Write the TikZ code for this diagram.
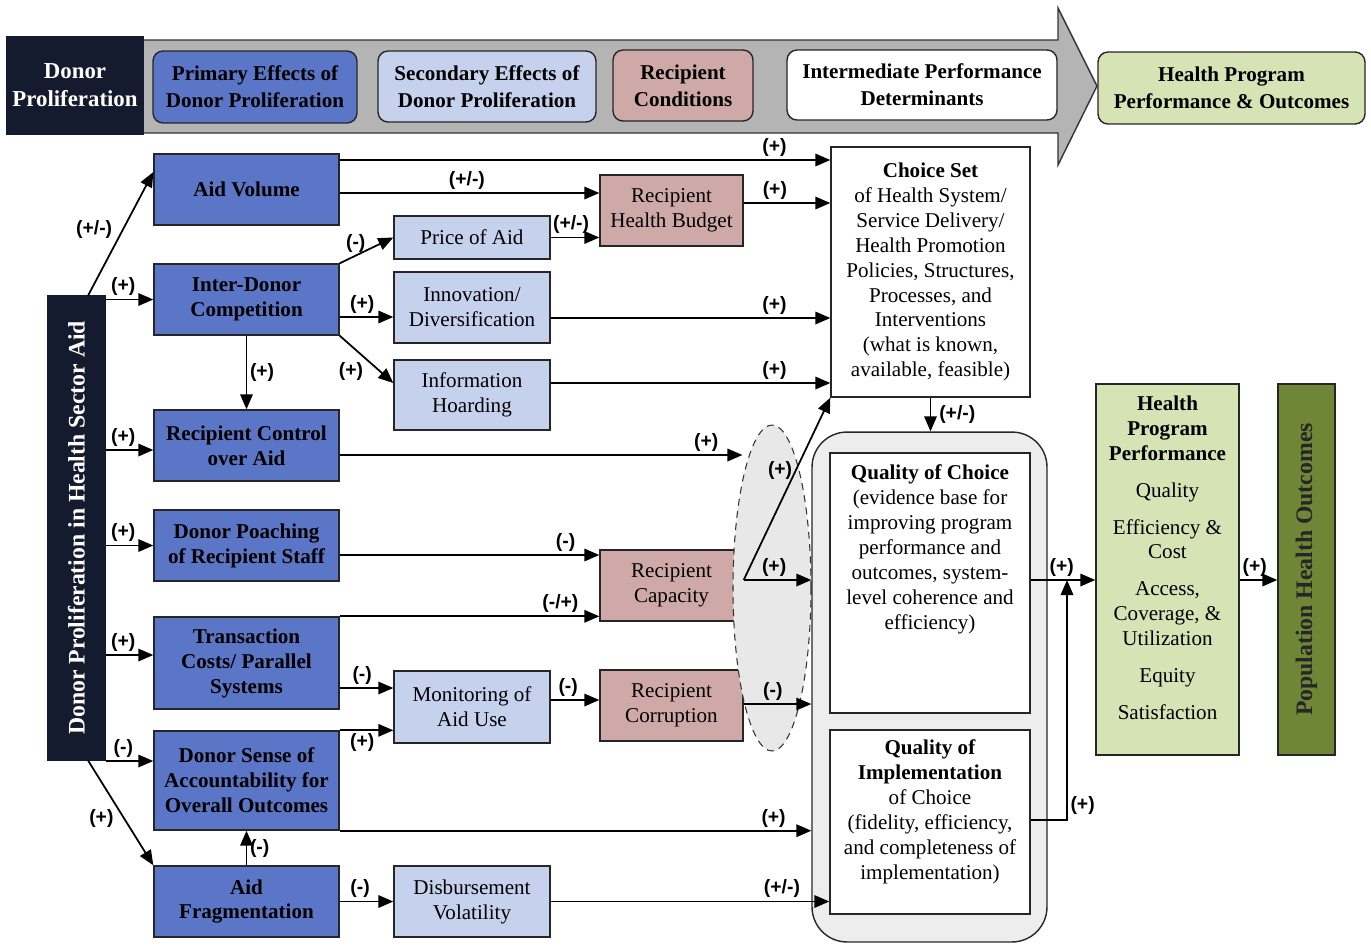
\documentclass[tikz,border=0pt]{standalone}
\usepackage{fontspec}
\setmainfont{Liberation Serif}
\newfontfamily\signfont{Liberation Sans}
\usetikzlibrary{arrows.meta, shapes.geometric, positioning, calc}

\definecolor{navy}{HTML}{151B2E}
\definecolor{primblue}{HTML}{5B76C6}
\definecolor{secblue}{HTML}{C6D1EE}
\definecolor{recpink}{HTML}{CFA9A7}
\definecolor{lightgreen}{HTML}{D6E3B5}
\definecolor{olive}{HTML}{6E8636}
\definecolor{bandgrey}{HTML}{B4B4B4}
\definecolor{boxgrey}{HTML}{EDEDED}
\definecolor{ovalgrey}{HTML}{E8E8E8}

\tikzset{
  base/.style={draw=black!85, line width=0.8pt, inner sep=0pt, align=center,
    font=\fontsize{12}{14.2}\selectfont},
  hdr/.style={base, rounded corners=0.2cm, font=\bfseries\fontsize{12}{15.5}\selectfont},
  prim/.style={base, fill=primblue, font=\bfseries\fontsize{12}{14.2}\selectfont,
    minimum width=3.7cm, minimum height=1.42cm},
  sec/.style={base, fill=secblue, minimum width=3.12cm, minimum height=1.42cm},
  rec/.style={base, fill=recpink, minimum width=2.86cm, minimum height=1.42cm},
  qtext/.style={align=center, inner sep=0pt, font=\fontsize{12}{14.2}\selectfont},
  flow/.style={line width=1pt, -{Triangle[length=0.3cm, width=0.25cm]}},
  sgn/.style={font=\signfont\bfseries\fontsize{11}{12}\selectfont, inner sep=1.5pt}
}

\begin{document}
\begin{tikzpicture}[x=0.02cm, y=-0.02cm]
  \useasboundingbox (0,0) rectangle (1371,947);

  \draw[fill=bandgrey, draw=black!80, line width=0.8pt] (143,40) -- (1058,40) -- (1058,8) -- (1097,86)
    -- (1058,165) -- (1058,133) -- (143,133) -- cycle;
  \node[hdr, fill=navy, draw=navy, text=white, rounded corners=0pt, font=\bfseries\fontsize{13}{16}\selectfont,
    minimum width=2.72cm, minimum height=1.94cm] (dphdr) at (75,85.5) {Donor\\Proliferation};
  \node[hdr, fill=primblue, minimum width=4.08cm, minimum height=1.44cm] (primhdr) at (255,87) {Primary Effects of\\Donor Proliferation};
  \node[hdr, fill=secblue, minimum width=4.36cm, minimum height=1.42cm] (sechdr) at (487,86.5) {Secondary Effects of\\Donor Proliferation};
  \node[hdr, fill=recpink, minimum width=2.8cm, minimum height=1.42cm] (rechdr) at (683,85.5) {Recipient\\Conditions};
  \node[hdr, fill=white, minimum width=5.4cm, minimum height=1.4cm] (inthdr) at (922,85) {Intermediate Performance\\Determinants};
  \node[hdr, fill=lightgreen, minimum width=5.34cm, minimum height=1.44cm] (outhdr) at (1231.5,88) {Health Program\\Performance \& Outcomes};

  \node[base, fill=navy, draw=navy, text=white, font=\bfseries\fontsize{13.5}{15}\selectfont, rotate=90,
    minimum width=9.28cm, minimum height=1.14cm] (donor) at (76.5,528) {Donor Proliferation in Health Sector Aid};

  \node[prim] (aidvol) at (246.5,189.5) {Aid Volume};
  \node[prim] (compet) at (246.5,299.5) {Inter-Donor\\Competition};
  \node[prim] (control) at (246.5,445.5) {Recipient Control\\over Aid};
  \node[prim] (poach) at (246.5,545.5) {Donor Poaching\\of Recipient Staff};
  \node[prim, minimum height=1.84cm] (trans) at (246.5,663) {Transaction\\Costs/ Parallel\\Systems};
  \node[prim, minimum height=1.98cm] (account) at (246.5,780.5) {Donor Sense of\\Accountability for\\Overall Outcomes};
  \node[prim] (frag) at (246.5,901.5) {Aid\\Fragmentation};

  \node[sec, minimum height=0.86cm] (price) at (472,237.5) {Price of Aid};
  \node[sec] (innov) at (472,307.5) {Innovation/\\Diversification};
  \node[sec, minimum height=1.4cm] (hoard) at (472,395) {Information\\Hoarding};
  \node[sec, minimum height=1.44cm] (monit) at (472,707) {Monitoring of\\Aid Use};
  \node[sec] (disb) at (472,901.5) {Disbursement\\Volatility};

  \node[rec] (budget) at (671.5,210.5) {Recipient\\Health Budget};
  \node[rec] (capac) at (671.5,585.5) {Recipient\\Capacity};
  \node[rec] (corrupt) at (671.5,705.5) {Recipient\\Corruption};

  \node[ellipse, draw=black!80, line width=0.6pt, dash pattern=on 4pt off 3pt, fill=ovalgrey,
    minimum width=1.56cm, minimum height=6.52cm, inner sep=0pt] (grp) at (772,588) {};

  \node[base, fill=white, minimum width=3.98cm, minimum height=5cm] (choice) at (930.5,272)
    {\textbf{Choice Set}\\of Health System/\\Service Delivery/\\Health Promotion\\Policies, Structures,\\Processes, and\\Interventions\\(what is known,\\available, feasible)};

  \node[base, fill=boxgrey, rounded corners=0.7cm, minimum width=4.7cm, minimum height=10.2cm] (qual) at (929.5,687) {};
  \node[base, fill=white, minimum width=4cm, minimum height=5.2cm] (qoc) at (930,583) {};
  \node[qtext, below=0.24cm of qoc.north] (qoctext) {\textbf{Quality of Choice}\\(evidence base for\\improving program\\performance and\\outcomes, system-\\level coherence and\\efficiency)};
  \node[base, fill=white, minimum width=4cm, minimum height=3.68cm] (qoi) at (930,822) {};
  \node[qtext, below=0.2cm of qoi.north] (qoitext) {\textbf{Quality of}\\\textbf{Implementation}\\of Choice\\(fidelity, efficiency,\\and completeness of\\implementation)};

  \node[base, fill=lightgreen, minimum width=2.86cm, minimum height=7.42cm] (hpp) at (1167.5,569.5) {};
  \node[qtext, below=0.24cm of hpp.north] (hpptext) {\textbf{Health}\\\textbf{Program}\\\textbf{Performance}\\[6.8pt]Quality\\[6.8pt]Efficiency \&\\Cost\\[6.8pt]Access,\\Coverage, \&\\Utilization\\[6.8pt]Equity\\[6.8pt]Satisfaction};
  \node[base, fill=olive, text=black!85, font=\bfseries\fontsize{13.5}{15}\selectfont, rotate=90,
    minimum width=7.42cm, minimum height=1.14cm] (pho) at (1306.5,569.5) {Population Health Outcomes};

  \draw[flow] ($(donor.east)!0.4!(donor.south east)$) -- node[sgn, left, pos=0.53, xshift=-4pt] {(+/-)} (aidvol.west |- 0,172);
  \draw[flow] (donor.south |- compet.west) -- node[sgn, above, pos=0.37] {(+)} (compet.west);
  \draw[flow] (donor.south |- 0,450) -- node[sgn, above, pos=0.37] {(+)} (control.west |- 0,450);
  \draw[flow] (donor.south |- poach.west) -- node[sgn, above, pos=0.37] {(+)} (poach.west);
  \draw[flow] (donor.south |- 0,655) -- node[sgn, above, pos=0.37] {(+)} (trans.west |- 0,655);
  \draw[flow] (donor.south |- 0,761) -- node[sgn, above, pos=0.37] {(-)} (account.west |- 0,761);
  \draw[flow] ($(donor.west)!0.4!(donor.south west)$) -- node[sgn, left, pos=0.55, xshift=-4pt] {(+)} (frag.north west);

  \draw[flow] (aidvol.east |- 0,160) -- node[sgn, above, pos=0.886] {(+)} (choice.west |- 0,160);
  \draw[flow] (aidvol.east |- 0,193) -- node[sgn, above, pos=0.49] {(+/-)} (budget.west |- 0,193);
  \draw[flow] (compet.north east) -- node[sgn, above, pos=0.3] {(-)} (price.west);
  \draw[flow] (compet.east |- 0,317) -- node[sgn, above, pos=0.42] {(+)} (innov.west |- 0,317);
  \draw[flow] (compet.south east) -- node[sgn, below left, pos=0.5] {(+)} (hoard.west |- 0,383);
  \draw[flow] (compet.south) -- node[sgn, right] {(+)} (control.north);

  \draw[flow] (price.east) -- node[sgn, above, pos=0.42] {(+/-)} (budget.west |- price.east);
  \draw[flow] (budget.east |- 0,203) -- node[sgn, above, pos=0.36] {(+)} (choice.west |- 0,203);
  \draw[flow] (innov.east |- 0,318) -- node[sgn, above, pos=0.8] {(+)} (choice.west |- 0,318);
  \draw[flow] (hoard.east |- 0,383) -- node[sgn, above, pos=0.8] {(+)} (choice.west |- 0,383);

  \draw[flow] (control.east |- 0,455) -- node[sgn, above, pos=0.91] {(+)} ($(grp.west |- 0,455)+(10,0)$);
  \draw[flow] (poach.east |- 0,555) -- node[sgn, above, pos=0.87] {(-)} (capac.west |- 0,555);
  \draw[flow] (trans.north east) -- node[sgn, above, pos=0.85] {(-/+)} (capac.west |- trans.north east);
  \draw[flow] (trans.east |- 0,688) -- node[sgn, above, pos=0.42] {(-)} (monit.west |- 0,688);
  \draw[flow] (account.north east) -- node[sgn, below, pos=0.42] {(+)} (monit.west |- account.north east);
  \draw[flow] (monit.east |- 0,700) -- node[sgn, above, pos=0.36] {(-)} (corrupt.west |- 0,700);

  \draw[flow] (capac.east |- 0,580) -- node[sgn, left, pos=0.6] {(+)} (choice.south west);
  \draw[flow] (capac.east |- 0,580) -- node[sgn, above, pos=0.45] {(+)} (qual.west |- 0,580);
  \draw[flow] (corrupt.east |- 0,704) -- node[sgn, above, pos=0.43] {(-)} (qual.west |- 0,704);
  \draw[flow] (account.south east) -- node[sgn, above, pos=0.92] {(+)} (qual.west |- account.south east);
  \draw[flow] (frag.north) -- node[sgn, right] {(-)} (account.south);
  \draw[flow] (frag.east) -- node[sgn, above, pos=0.38] {(-)} (disb.west);
  \draw[flow] (disb.east) -- node[sgn, above, pos=0.83] {(+/-)} (qoi.west |- disb.east);

  \draw[flow] (choice.south) -- node[sgn, right, xshift=3pt] {(+/-)} (choice.south |- qual.north);
  \coordinate (join) at (1067,580);
  \draw[flow] (qoc.east |- 0,580) -- node[sgn, above, pos=0.48] {(+)} (hpp.west |- 0,580);
  \draw[flow] (qoi.east |- 0,820) -| node[sgn, right, pos=0.53] {(+)} (join);
  \draw[flow] (hpp.east |- 0,580) -- node[sgn, above, pos=0.4] {(+)} (pho.north |- 0,580);
\end{tikzpicture}
\end{document}
